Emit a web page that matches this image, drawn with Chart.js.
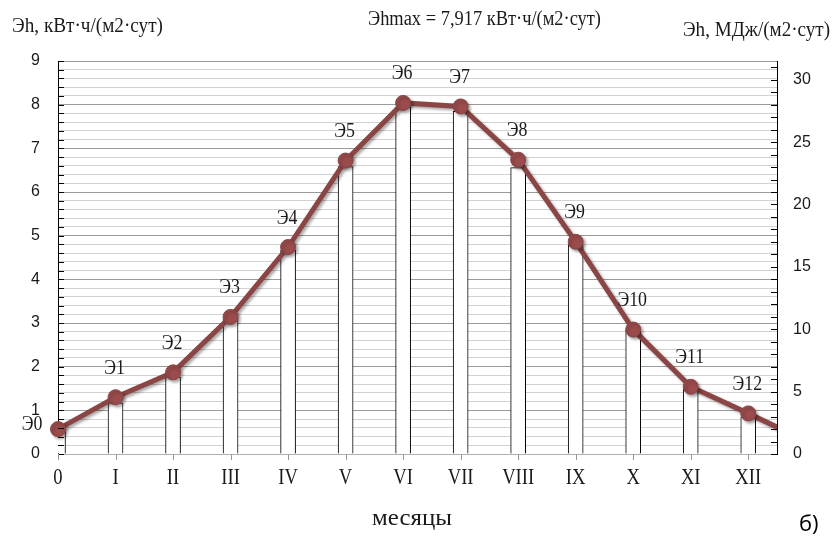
<!DOCTYPE html>
<html>
<head>
<meta charset="utf-8">
<script src="https://cdn.jsdelivr.net/npm/chart.js@4.4.1/dist/chart.umd.min.js"></script>
<style>
html,body{margin:0;padding:0;background:#fff;}
canvas{display:block;}
</style>
</head>
<body>
<canvas id="c" width="834" height="544"></canvas>
<script>
// ---- data ----
const monthLabels = ['0','I','II','III','IV','V','VI','VII','VIII','IX','X','XI','XII'];
const pointNames = ['Э0','Э1','Э2','Э3','Э4','Э5','Э6','Э7','Э8','Э9','Э10','Э11','Э12'];
const lineValues = [0.57, 1.30, 1.87, 3.14, 4.74, 6.72, 8.04, 7.96, 6.74, 4.86, 2.85, 1.54, 0.93];
const nextJanValue = 0.30;   // line continues past XII and is cut at the right axis
const barValues = [0.52, 1.17, 1.77, 3.10, 4.67, 6.58, 7.95, 7.85, 6.56, 4.79, 2.84, 1.48, 0.85];
const leftAxisMax = 9;
const rightAxisMax = 31.5;
const headerLeft = 'Эh, кВт·ч/(м2·сут)';
const headerMid = 'Эhmax = 7,917 кВт·ч/(м2·сут)';
const headerRight = 'Эh, МДж/(м2·сут)';
const xTitle = 'месяцы';
const panelTag = 'б)';

const SERIF = "'Liberation Serif','Times New Roman',serif";
const SANS = "'Liberation Sans',Arial,sans-serif";
const LINE_COLOR = '#8b4545';

function drawText(ctx, s, cx, cy, font, sx, sy, align) {
  ctx.save();
  ctx.font = font;
  ctx.fillStyle = '#1a1a1a';
  ctx.textAlign = align || 'center';
  ctx.textBaseline = 'middle';
  ctx.translate(cx, cy);
  ctx.scale(sx, sy);
  ctx.fillText(s, 0, 0);
  ctx.restore();
}
function drawFit(ctx, s, left, width, cy, font, sy) {
  ctx.save();
  ctx.font = font;
  const w = ctx.measureText(s).width;
  ctx.restore();
  drawText(ctx, s, left, cy, font, width / w, sy || 1, 'left');
}

const lineData = lineValues.map((v, i) => ({x: i, y: v}));
lineData.push({x: monthLabels.length, y: nextJanValue});
const barData = barValues.map((v, i) => ({x: i, y: v}));

const shadowPlugin = {
  id: 'shadow',
  beforeDatasetDraw(chart, args) {
    if (args.index === 0) {
      const ctx = chart.ctx;
      ctx.save();
      ctx.shadowColor = 'rgba(0,0,0,0.35)';
      ctx.shadowOffsetX = 2;
      ctx.shadowOffsetY = 2;
      ctx.shadowBlur = 3;
    }
  },
  afterDatasetDraw(chart, args) {
    if (args.index === 0) chart.ctx.restore();
  }
};

const decoPlugin = {
  id: 'deco',
  afterDraw(chart) {
    const ctx = chart.ctx;
    const xs = chart.scales.x, yl = chart.scales.y, yr = chart.scales.y2;
    const ca = chart.chartArea;
    ctx.save();
    ctx.strokeStyle = '#000';
    ctx.lineWidth = 1;
    ctx.beginPath();
    for (let k = 0; k <= leftAxisMax * 5; k++) {
      const y = Math.round(yl.getPixelForValue(k / 5)) + 0.5;
      ctx.moveTo(ca.left, y); ctx.lineTo(ca.left + 6, y);
    }
    ctx.stroke();
    ctx.beginPath();
    for (let m = 0; m <= Math.floor(rightAxisMax); m++) {
      const y = Math.round(yr.getPixelForValue(m)) + 0.5;
      ctx.moveTo(ca.right - 6, y); ctx.lineTo(ca.right, y);
    }
    ctx.stroke();
    ctx.strokeStyle = '#999';
    ctx.beginPath();
    for (let i = 0; i < monthLabels.length; i++) {
      const x = Math.round(xs.getPixelForValue(i)) + 0.5;
      ctx.moveTo(x, ca.bottom); ctx.lineTo(x, ca.bottom + 6);
    }
    ctx.stroke();
    ctx.restore();

    monthLabels.forEach((s, i) => {
      drawText(ctx, s, xs.getPixelForValue(i), 478, '23px ' + SERIF, 0.81, 1, 'center');
    });
    pointNames.forEach((s, i) => {
      const px = xs.getPixelForValue(i);
      const py = yl.getPixelForValue(lineValues[i]);
      if (i === 0) drawText(ctx, s, px - 26, py - 5, '21px ' + SERIF, 0.85, 1, 'center');
      else drawText(ctx, s, px - 1, py - 29, '21px ' + SERIF, 0.85, 1, 'center');
    });
    drawFit(ctx, headerLeft, 12, 151, 27, '20px ' + SERIF);
    drawFit(ctx, headerMid, 368, 233, 20, '20px ' + SERIF);
    drawFit(ctx, headerRight, 683, 147, 31, '20px ' + SERIF);
    drawFit(ctx, xTitle, 372, 80, 519, '21px ' + SERIF, 1.1);
    ctx.save();
    ctx.font = "22px 'Open Sans',sans-serif";
    ctx.fillStyle = '#000';
    ctx.textAlign = 'left';
    ctx.textBaseline = 'middle';
    ctx.fillText(panelTag, 799, 525);
    ctx.restore();
  }
};

new Chart(document.getElementById('c'), {
  data: {
    datasets: [
      {
        type: 'line',
        data: lineData,
        borderColor: LINE_COLOR,
        borderWidth: 5,
        tension: 0,
        pointRadius: lineData.map((d, i) => i < lineValues.length ? 7.5 : 0),
        pointBackgroundColor: '#9a4b4b',
        pointBorderColor: LINE_COLOR,
        pointBorderWidth: 1,
        yAxisID: 'y',
        order: 1,
        clip: {left: 12, top: 12, right: 0, bottom: 12}
      },
      {
        type: 'bar',
        data: barData,
        backgroundColor: '#ffffff',
        borderColor: '#000000',
        borderWidth: 1,
        barThickness: 15,
        yAxisID: 'y',
        order: 2,
        clip: 0
      }
    ]
  },
  options: {
    responsive: false,
    animation: false,
    devicePixelRatio: 1,
    layout: {padding: {top: 61, left: 0, right: 0, bottom: 0}},
    plugins: {legend: {display: false}, tooltip: {enabled: false}},
    scales: {
      x: {
        type: 'linear',
        offset: false,
        min: 0,
        max: monthLabels.length - 0.5,
        grid: {display: false, offset: false},
        border: {display: true, color: '#b0b0b0'},
        ticks: {display: false, stepSize: 1},
        afterFit(s) { s.height = 90; }
      },
      y: {
        position: 'left',
        min: 0,
        max: leftAxisMax,
        ticks: {
          stepSize: 0.2,
          autoSkip: false,
          padding: 18,
          color: '#1a1a1a',
          font: {family: SANS, size: 16},
          callback(v) {
            const r = Math.round(v);
            return Math.abs(v - r) < 1e-6 ? String(r) : '';
          }
        },
        grid: {
          drawTicks: false,
          color(ctx) {
            const v = ctx.tick ? ctx.tick.value : 0;
            return Math.abs(v - Math.round(v)) < 1e-6 ? '#9a9a9a' : '#d2d2d2';
          },
          lineWidth: 1
        },
        border: {display: true, color: '#000', width: 1},
        afterFit(s) { s.width = 58; }
      },
      y2: {
        position: 'right',
        min: 0,
        max: rightAxisMax,
        ticks: {
          stepSize: 5,
          autoSkip: false,
          padding: 16,
          color: '#1a1a1a',
          font: {family: SANS, size: 16},
          callback(v) { return Number.isInteger(v) ? String(v) : ''; }
        },
        grid: {drawOnChartArea: false, drawTicks: false},
        border: {display: true, color: '#000', width: 1},
        afterFit(s) { s.width = 57; }
      }
    }
  },
  plugins: [shadowPlugin, decoPlugin]
});
</script>
</body>
</html>
